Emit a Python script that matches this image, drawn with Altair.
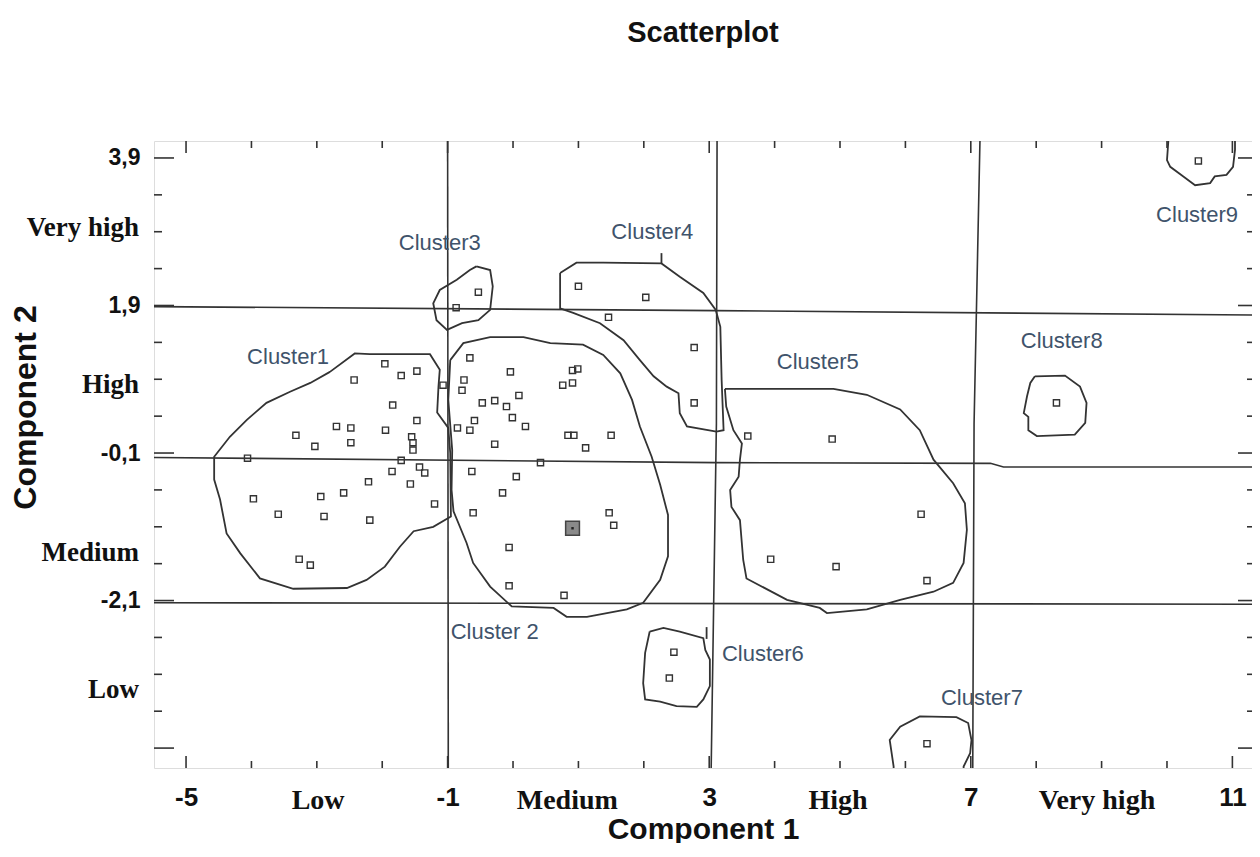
import altair as alt
import pandas as pd

# ---------------- data ----------------
# Cluster points (Component 1, Component 2)
C1_X = [-1.96, -1.71, -1.47, -2.43, -1.84, -1.47, -2.70, -2.48, -1.95, -3.32, -3.03, -2.48,
        -1.55, -1.53, -1.53, -4.06, -1.71, -1.85, -1.43, -1.35, -2.21, -1.57, -2.59, -2.94,
        -3.97, -1.20, -3.59, -2.89, -2.19, -3.27, -3.10]
C1_Y = [1.11, 0.95, 1.01, 0.89, 0.55, 0.34, 0.26, 0.24, 0.21, 0.14, -0.01, 0.04,
        0.12, 0.04, -0.06, -0.17, -0.20, -0.35, -0.29, -0.37, -0.49, -0.52, -0.64, -0.69,
        -0.72, -0.79, -0.93, -0.96, -1.01, -1.54, -1.62]
C2_X = [-0.66, -0.04, -0.75, -0.78, -1.07, 0.09, -0.47, -0.28, -0.10, -0.01, 0.19, -0.59,
        -0.66, -0.85, -0.28, 0.91, 0.99, 0.76, 0.91, 0.84, 0.93, 1.50, 1.11, 0.42,
        -0.63, 0.05, -0.16, -0.61, 1.47, 1.54, -0.06, -0.06, 0.78]
C2_Y = [1.19, 1.00, 0.89, 0.75, 0.82, 0.68, 0.58, 0.61, 0.53, 0.38, 0.26, 0.34,
        0.21, 0.24, 0.02, 1.02, 1.04, 0.82, 0.85, 0.14, 0.14, 0.14, -0.03, -0.23,
        -0.35, -0.42, -0.64, -0.91, -0.91, -1.08, -1.38, -1.90, -2.03]
C2_CENTER_X = [0.91]
C2_CENTER_Y = [-1.12]
C3_X = [-0.53, -0.87]
C3_Y = [2.08, 1.87]
C4_X = [1.00, 2.03, 1.46, 2.77, 2.77]
C4_Y = [2.16, 2.01, 1.74, 1.33, 0.58]
C5_X = [3.59, 4.88, 6.24, 3.94, 4.94, 6.33]
C5_Y = [0.13, 0.09, -0.93, -1.54, -1.64, -1.83]
C6_X = [2.46, 2.39]
C6_Y = [-2.80, -3.15]
C7_X = [6.33]
C7_Y = [-4.04]
C8_X = [8.31]
C8_Y = [0.58]
C9_X = [10.48]
C9_Y = [3.86]

# Cluster outlines
O1_X = [-2.80, -2.42, -2.19, -1.27, -1.12, -1.14, -1.16, -0.99, -0.96, -0.95, -1.22, -1.52,
        -1.73, -1.96, -2.24, -2.54, -3.36, -3.87, -4.17, -4.38, -4.48, -4.57, -4.57, -4.33,
        -4.07, -3.77, -3.41, -3.10]
O1_Y = [1.00, 1.25, 1.24, 1.24, 1.03, 0.80, 0.45, 0.24, -0.10, -0.96, -1.10, -1.16,
        -1.37, -1.64, -1.82, -1.93, -1.94, -1.80, -1.46, -1.19, -0.73, -0.46, -0.15, 0.12,
        0.35, 0.58, 0.73, 0.85]
O2_X = [-0.96, -0.76, -0.35, 0.16, 0.57, 1.07, 1.38, 1.64, 1.82, 1.94, 2.12, 2.25, 2.37,
        2.37, 2.25, 1.99, 1.74, 1.13, 0.82, 0.62, -0.02, -0.35, -0.61, -0.71, -0.91, -0.94,
        -0.93, -0.99]
O2_Y = [1.16, 1.39, 1.47, 1.47, 1.39, 1.37, 1.23, 0.98, 0.62, 0.26, -0.15, -0.53, -0.94,
        -1.50, -1.82, -2.13, -2.22, -2.32, -2.32, -2.20, -2.18, -1.91, -1.59, -1.32, -0.89, -0.60,
        -0.06, 0.62]
O3_X = [-0.56, -0.35, -0.31, -0.35, -0.53, -0.78, -1.01, -1.17, -1.22, -1.12, -0.86, -0.66]
O3_Y = [2.43, 2.38, 2.16, 1.84, 1.70, 1.66, 1.57, 1.70, 1.93, 2.11, 2.25, 2.38]
O4_X = [0.72, 0.97, 1.38, 2.27, 2.55, 2.91, 3.10, 3.17, 3.19, 3.22, 3.11, 2.66, 2.55, 2.53,
        2.35, 2.15, 1.94, 1.69, 1.33, 0.92, 0.72]
O4_Y = [2.34, 2.48, 2.48, 2.47, 2.29, 2.07, 1.84, 1.61, 0.89, 0.21, 0.19, 0.26, 0.44, 0.71,
        0.80, 0.94, 1.16, 1.43, 1.66, 1.80, 1.86]
O5_X = [3.24, 4.90, 5.41, 5.92, 6.22, 6.43, 6.73, 6.91, 6.94, 6.89, 6.73, 6.43, 5.92, 5.41,
        4.80, 4.69, 4.19, 3.57, 3.52, 3.47, 3.34, 3.32, 3.45, 3.47, 3.50, 3.37, 3.26]
O5_Y = [0.77, 0.77, 0.69, 0.49, 0.21, -0.19, -0.51, -0.78, -1.14, -1.59, -1.86, -1.98, -2.09,
        -2.22, -2.27, -2.20, -2.09, -1.80, -1.55, -1.01, -0.83, -0.60, -0.42, -0.19, 0.03, 0.21,
        0.53]
O6_X = [2.09, 2.30, 2.55, 2.91, 2.94, 3.01, 3.01, 2.91, 2.81, 2.50, 2.25, 2.02, 1.99, 2.02]
O6_Y = [-2.52, -2.47, -2.52, -2.61, -2.77, -2.90, -3.26, -3.44, -3.54, -3.53, -3.47, -3.44,
        -3.22, -2.81]
O7_X = [5.82, 5.82, 5.76, 5.92, 6.22, 6.78, 6.96, 7.01, 6.99, 6.89, 6.89]
O7_Y = [-4.45, -4.35, -3.99, -3.81, -3.67, -3.68, -3.76, -3.99, -4.17, -4.35, -4.45]
O8_X = [7.98, 8.44, 8.67, 8.77, 8.75, 8.59, 8.01, 7.88, 7.88, 7.81, 7.86, 7.91]
O8_Y = [0.94, 0.95, 0.80, 0.58, 0.31, 0.15, 0.13, 0.21, 0.39, 0.44, 0.67, 0.85]
O9_X = [10.02, 10.02, 10.00, 10.05, 10.25, 10.43, 10.66, 10.73, 10.91, 11.01, 11.04, 11.04]
O9_Y = [4.25, 4.12, 3.87, 3.78, 3.65, 3.53, 3.56, 3.65, 3.67, 3.78, 4.01, 4.25]

# Small leader strokes next to Cluster4 and Cluster6 labels
S_ID = ["s4", "s4", "s6", "s6"]
S_X = [2.27, 2.27, 2.96, 2.96]
S_Y = [2.47, 2.61, -2.46, -2.62]

# Category divider lines
G_ID = ["v1", "v1", "v2", "v2", "v2", "v3", "v3", "v3",
        "h1", "h1", "h1", "h2", "h2", "h2", "h2", "h2", "h3", "h3"]
G_X = [-1.00, -0.99, 3.12, 3.11, 3.03, 7.14, 7.05, 7.03,
       -5.49, 3.10, 11.42, -5.49, 3.10, 7.30, 7.50, 11.42, -5.49, 11.42]
G_Y = [4.13, -4.37, 4.13, 0.30, -4.37, 4.13, 0.30, -4.37,
       1.885, 1.83, 1.77, -0.16, -0.23, -0.24, -0.29, -0.29, -2.13, -2.15]

# Cluster labels
CL_NAMES = ["Cluster1", "Cluster3", "Cluster4", "Cluster5", "Cluster8", "Cluster9",
            "Cluster 2", "Cluster6", "Cluster7"]
CL_X = [-3.44, -1.12, 2.13, 4.66, 8.39, 10.46, -0.28, 3.82, 7.17]
CL_Y = [1.20, 2.75, 2.90, 1.14, 1.42, 3.13, -2.52, -2.82, -3.42]

# Axis ticks and labels
X_TICKS = list(range(-5, 12))
X_MAJOR = [-5, -1, 3, 7, 11]
Y_TICKS = [-4.1, -3.6, -3.1, -2.6, -2.1, -1.6, -1.1, -0.6, -0.1, 0.4, 0.9, 1.4, 1.9, 2.4, 2.9, 3.4, 3.9]
Y_MAJOR = [3.9, 1.9, -0.1, -2.1, -4.1]
Y_LABELS = [3.9, 1.9, -0.1, -2.1]
XCAT = ["Low", "Medium", "High", "Very high"]
XCAT_X = [-2.98, 0.83, 4.97, 8.93]
YCAT = ["Very high", "High", "Medium", "Low"]
YCAT_Y = [2.95, 0.82, -1.45, -3.31]

# ---------------- tables ----------------
W, H = 1098, 627
XDOM = [-5.49, 11.30]
YDOM = [-4.37, 4.13]
INK = "#333333"

pts_rows = []
for name, xs, ys in [("Cluster1", C1_X, C1_Y), ("Cluster2", C2_X, C2_Y), ("Cluster3", C3_X, C3_Y),
                     ("Cluster4", C4_X, C4_Y), ("Cluster5", C5_X, C5_Y), ("Cluster6", C6_X, C6_Y),
                     ("Cluster7", C7_X, C7_Y), ("Cluster8", C8_X, C8_Y), ("Cluster9", C9_X, C9_Y)]:
    for a, b in zip(xs, ys):
        pts_rows.append({"cluster": name, "x": a, "y": b})
pts = pd.DataFrame(pts_rows)
center = pd.DataFrame({"x": C2_CENTER_X, "y": C2_CENTER_Y})

out_rows = []
for name, xs, ys in [("1", O1_X, O1_Y), ("2", O2_X, O2_Y), ("3", O3_X, O3_Y), ("4", O4_X, O4_Y),
                     ("5", O5_X, O5_Y), ("6", O6_X, O6_Y), ("7", O7_X, O7_Y), ("8", O8_X, O8_Y),
                     ("9", O9_X, O9_Y)]:
    xs2 = list(xs) + [xs[0]]
    ys2 = list(ys) + [ys[0]]
    for i, (a, b) in enumerate(zip(xs2, ys2)):
        out_rows.append({"cluster": name, "i": i, "x": a, "y": b})
for i, (sid, a, b) in enumerate(zip(S_ID, S_X, S_Y)):
    out_rows.append({"cluster": sid, "i": i, "x": a, "y": b})
outlines = pd.DataFrame(out_rows)

grid = pd.DataFrame({"id": G_ID, "x": G_X, "y": G_Y, "i": list(range(len(G_ID)))})
labels = pd.DataFrame({"name": CL_NAMES, "x": CL_X, "y": CL_Y})
xt = pd.DataFrame({"x": X_TICKS, "major": [v in X_MAJOR for v in X_TICKS]})
yt = pd.DataFrame({"y": Y_TICKS, "major": [v in Y_MAJOR for v in Y_TICKS]})
xcat = pd.DataFrame({"label": XCAT, "x": XCAT_X})
ycat = pd.DataFrame({"label": YCAT, "y": YCAT_Y})

X = alt.X("x:Q", scale=alt.Scale(domain=XDOM, nice=False, zero=False),
          axis=alt.Axis(values=X_MAJOR, ticks=False, domain=False, grid=False,
                        labelExpr="replace(format(datum.value, 'd'), '\u2212', '-')",
                        labelFont="Liberation Sans", labelFontWeight="bold", labelFontSize=26,
                        labelColor="#111", labelPadding=16, labelFlush=False, labelOverlap=False,
                        title="Component 1", titleFont="Liberation Sans", titleFontWeight="bold",
                        titleFontSize=30, titleColor="#111", titleY=46))
Y = alt.Y("y:Q", scale=alt.Scale(domain=YDOM, nice=False, zero=False),
          axis=alt.Axis(values=Y_LABELS, ticks=False, domain=False, grid=False,
                        labelExpr="replace(replace(format(datum.value, '.1f'), '.', ','), '\u2212', '-')",
                        labelFont="Liberation Sans", labelFontWeight="bold", labelFontSize=23,
                        labelColor="#111", labelPadding=14, labelFlush=False, labelOverlap=False,
                        title="Component 2", titleFont="Liberation Sans", titleFontWeight="bold",
                        titleFontSize=32, titleColor="#111", titleX=-112, titleY=266))

base_grid = alt.Chart(grid).mark_line(color=INK, strokeWidth=1.6, clip=True).encode(
    x=X, y=Y, detail="id:N", order="i:Q")
base_out = alt.Chart(outlines).mark_line(color=INK, strokeWidth=1.8, clip=True).encode(
    x=X, y=Y, detail="cluster:N", order="i:Q")
base_pts = alt.Chart(pts).mark_point(shape="square", filled=False, size=38, color=INK,
                                     strokeWidth=1.4, opacity=1).encode(x=X, y=Y)
base_center = alt.Chart(center).mark_point(shape="square", filled=True, size=190, fill="#8a8a8a",
                                           stroke="#444", strokeWidth=1.5, opacity=1).encode(x=X, y=Y)
center_dot = alt.Chart(center).mark_point(shape="square", filled=True, size=6, color="#222",
                                          opacity=1).encode(x=X, y=Y)
base_labels = alt.Chart(labels).mark_text(font="Liberation Sans", fontSize=22, color="#40536b",
                                          align="center", baseline="middle").encode(
    x=X, y=Y, text="name:N")


def xticks(major, top):
    ln = 12 if major else 7
    if top:
        y0, y1 = 0, ln
    else:
        y0, y1 = H, H - ln
    return alt.Chart(xt).transform_filter(
        alt.datum.major if major else ~alt.datum.major
    ).mark_rule(color=INK, strokeWidth=1.6).encode(x=X, y=alt.value(y0), y2=alt.value(y1))


def yticks(major, left):
    if left:
        ln = 20 if major else 8
        x0, x1 = 0, ln
    else:
        ln = 14 if major else 5
        x0, x1 = W, W - ln
    return alt.Chart(yt).transform_filter(
        alt.datum.major if major else ~alt.datum.major
    ).mark_rule(color=INK, strokeWidth=1.6).encode(y=Y, x=alt.value(x0), x2=alt.value(x1))


xcat_text = alt.Chart(xcat).mark_text(font="Liberation Serif", fontWeight="bold", fontSize=28,
                                      color="#111", align="center", baseline="middle").encode(
    x=X, y=alt.value(H + 33), text="label:N")
ycat_text = alt.Chart(ycat).mark_text(font="Liberation Serif", fontWeight="bold", fontSize=27,
                                      color="#111", align="right", baseline="middle").encode(
    y=Y, x=alt.value(-15), text="label:N")

chart = alt.layer(
    base_grid, base_out, base_pts, base_center, center_dot, base_labels,
    xticks(True, True), xticks(False, True), xticks(True, False), xticks(False, False),
    yticks(True, True), yticks(False, True), yticks(True, False), yticks(False, False),
    xcat_text, ycat_text,
).properties(
    width=W, height=H,
    title=alt.TitleParams("Scatterplot", font="Liberation Sans", fontSize=29, fontWeight="bold",
                          color="#111", anchor="middle", frame="group", offset=92),
    autosize=alt.AutoSizeParams(type="none"),
    padding={"left": 146, "top": 133, "right": 0, "bottom": 75},
).configure_view(stroke=INK, strokeWidth=2).configure(background="white")

chart.save("out.html", embed_options={"renderer": "svg", "actions": False})
